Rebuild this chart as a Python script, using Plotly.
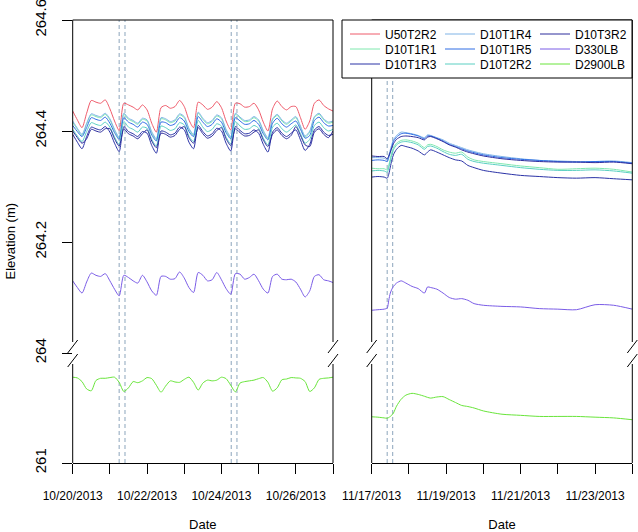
import pandas as pd
import plotly.graph_objects as go

W, H = 638, 532

# ---------------- data ----------------
SERIES = ["U50T2R2", "D10T1R1", "D10T1R3", "D10T1R4", "D10T1R5",
          "D10T2R2", "D10T3R2", "D330LB", "D2900LB"]
COLORS = {
    "U50T2R2": "#EE5A6A", "D10T1R1": "#7FE8AE", "D10T1R3": "#2A32A6",
    "D10T1R4": "#7FB3E6", "D10T1R5": "#2E6CE4", "D10T2R2": "#5ACFC2",
    "D10T3R2": "#2C2C9C", "D330LB": "#7A5CE6", "D2900LB": "#68E43A",
}
# legend rows (the reference legend is a 3 x 3 grid filled column by column)
LEGEND_ROW = {
    "U50T2R2": "legend", "D10T1R4": "legend", "D10T3R2": "legend",
    "D10T1R1": "legend2", "D10T1R5": "legend2", "D330LB": "legend2",
    "D10T1R3": "legend3", "D10T2R2": "legend3", "D2900LB": "legend3",
}

LEFT_START = "2013-10-20"
LEFT_HOURS = list(range(0, 169, 3))
LEFT_U50T2R2 = [
    264.436, 264.420, 264.406, 264.432, 264.455, 264.452, 264.450, 264.456,
    264.440, 264.418, 264.401, 264.450, 264.447, 264.443, 264.438, 264.447,
    264.438, 264.414, 264.398, 264.442, 264.446, 264.441, 264.444, 264.455,
    264.444, 264.420, 264.406, 264.452, 264.447, 264.439, 264.443, 264.453,
    264.442, 264.418, 264.402, 264.450, 264.449, 264.443, 264.444, 264.450,
    264.438, 264.416, 264.400, 264.440, 264.454, 264.444, 264.438, 264.444,
    264.444, 264.424, 264.403, 264.418, 264.450, 264.456, 264.446, 264.440,
    264.436]
LEFT_D10T1R1 = [
    264.416, 264.403, 264.392, 264.412, 264.429, 264.426, 264.424, 264.430,
    264.420, 264.401, 264.387, 264.430, 264.421, 264.417, 264.412, 264.421,
    264.418, 264.397, 264.384, 264.422, 264.420, 264.415, 264.418, 264.429,
    264.424, 264.403, 264.392, 264.432, 264.421, 264.413, 264.417, 264.427,
    264.422, 264.401, 264.388, 264.430, 264.423, 264.417, 264.418, 264.424,
    264.418, 264.399, 264.386, 264.420, 264.428, 264.418, 264.412, 264.418,
    264.424, 264.407, 264.389, 264.398, 264.424, 264.430, 264.420, 264.414,
    264.416]
LEFT_D10T1R4 = [
    264.418, 264.405, 264.394, 264.414, 264.431, 264.428, 264.426, 264.432,
    264.422, 264.403, 264.389, 264.432, 264.423, 264.419, 264.414, 264.423,
    264.420, 264.399, 264.386, 264.424, 264.422, 264.417, 264.420, 264.431,
    264.426, 264.405, 264.394, 264.434, 264.423, 264.415, 264.419, 264.429,
    264.424, 264.403, 264.390, 264.432, 264.425, 264.419, 264.420, 264.426,
    264.420, 264.401, 264.388, 264.422, 264.430, 264.420, 264.414, 264.420,
    264.426, 264.409, 264.391, 264.400, 264.426, 264.432, 264.422, 264.416,
    264.418]
LEFT_D10T1R5 = [
    264.410, 264.399, 264.390, 264.406, 264.424, 264.421, 264.419, 264.425,
    264.414, 264.397, 264.385, 264.424, 264.416, 264.412, 264.407, 264.416,
    264.412, 264.393, 264.382, 264.416, 264.415, 264.410, 264.413, 264.424,
    264.418, 264.399, 264.390, 264.426, 264.416, 264.408, 264.412, 264.422,
    264.416, 264.397, 264.386, 264.424, 264.418, 264.412, 264.413, 264.419,
    264.412, 264.395, 264.384, 264.414, 264.423, 264.413, 264.407, 264.413,
    264.418, 264.403, 264.387, 264.392, 264.419, 264.425, 264.415, 264.409,
    264.410]
LEFT_D10T2R2 = [
    264.403, 264.391, 264.381, 264.399, 264.415, 264.412, 264.410, 264.416,
    264.407, 264.389, 264.376, 264.417, 264.407, 264.403, 264.398, 264.407,
    264.405, 264.385, 264.373, 264.409, 264.406, 264.401, 264.404, 264.415,
    264.411, 264.391, 264.381, 264.419, 264.407, 264.399, 264.403, 264.413,
    264.409, 264.389, 264.377, 264.417, 264.409, 264.403, 264.404, 264.410,
    264.405, 264.387, 264.375, 264.407, 264.414, 264.404, 264.398, 264.404,
    264.411, 264.395, 264.378, 264.385, 264.410, 264.416, 264.406, 264.400,
    264.403]
LEFT_D10T1R3 = [
    264.394, 264.380, 264.368, 264.390, 264.407, 264.404, 264.402, 264.408,
    264.398, 264.378, 264.363, 264.408, 264.399, 264.395, 264.390, 264.399,
    264.396, 264.374, 264.360, 264.400, 264.398, 264.393, 264.396, 264.407,
    264.402, 264.380, 264.368, 264.410, 264.399, 264.391, 264.395, 264.405,
    264.400, 264.378, 264.364, 264.408, 264.401, 264.395, 264.396, 264.402,
    264.396, 264.376, 264.362, 264.398, 264.406, 264.396, 264.390, 264.396,
    264.402, 264.384, 264.365, 264.376, 264.402, 264.408, 264.398, 264.392,
    264.394]
LEFT_D10T3R2 = [
    264.400, 264.388, 264.378, 264.386, 264.403, 264.400, 264.398, 264.404,
    264.404, 264.386, 264.373, 264.404, 264.395, 264.391, 264.386, 264.395,
    264.402, 264.382, 264.370, 264.396, 264.394, 264.389, 264.392, 264.403,
    264.408, 264.388, 264.378, 264.406, 264.395, 264.387, 264.391, 264.401,
    264.406, 264.386, 264.374, 264.404, 264.397, 264.391, 264.392, 264.398,
    264.402, 264.384, 264.372, 264.394, 264.402, 264.392, 264.386, 264.392,
    264.408, 264.392, 264.375, 264.372, 264.398, 264.404, 264.394, 264.388,
    264.400]
LEFT_D330LB = [
    264.130, 264.118, 264.108, 264.128, 264.144, 264.140, 264.138, 264.143,
    264.130, 264.115, 264.103, 264.140, 264.136, 264.130, 264.126, 264.140,
    264.128, 264.112, 264.104, 264.138, 264.138, 264.133, 264.134, 264.146,
    264.135, 264.118, 264.109, 264.145, 264.140, 264.130, 264.132, 264.145,
    264.132, 264.116, 264.106, 264.143, 264.142, 264.133, 264.136, 264.142,
    264.130, 264.115, 264.108, 264.138, 264.142, 264.133, 264.132, 264.133,
    264.128, 264.115, 264.101, 264.112, 264.138, 264.141, 264.132, 264.130,
    264.127]
LEFT_D2900LB = [
    263.34, 263.32, 263.22, 263.02, 262.97, 263.25, 263.31, 263.31,
    263.33, 263.34, 263.20, 262.95, 263.05, 263.22, 263.19, 263.24,
    263.33, 263.30, 263.12, 262.93, 263.10, 263.24, 263.21, 263.20,
    263.28, 263.34, 263.20, 262.99, 263.18, 263.26, 263.24, 263.26,
    263.34, 263.30, 263.12, 262.94, 263.18, 263.22, 263.24, 263.26,
    263.30, 263.33, 263.20, 262.96, 263.05, 263.27, 263.29, 263.33,
    263.32, 263.31, 263.22, 262.95, 263.05, 263.28, 263.31, 263.32,
    263.34]

RIGHT_START = "2013-11-17"
RIGHT_HOURS = [0, 4, 8, 10, 11, 12, 13, 14, 16, 19, 22, 26, 30, 34, 36, 38,
               42, 46, 50, 54, 58, 62, 66, 72, 84, 96, 108, 120, 132, 144, 156, 168]
RIGHT_D10T1R4 = [
    264.352, 264.352, 264.351, 264.348, 264.356, 264.366, 264.376, 264.384,
    264.392, 264.398, 264.397, 264.395, 264.392, 264.388, 264.393, 264.392,
    264.388, 264.384, 264.378, 264.374, 264.370, 264.366, 264.363, 264.359,
    264.354, 264.350, 264.347, 264.346, 264.345, 264.345, 264.346, 264.343]
RIGHT_D10T1R5 = [
    264.347, 264.348, 264.347, 264.345, 264.352, 264.362, 264.372, 264.381,
    264.389, 264.395, 264.396, 264.394, 264.391, 264.386, 264.391, 264.391,
    264.387, 264.382, 264.376, 264.372, 264.368, 264.364, 264.361, 264.357,
    264.352, 264.349, 264.347, 264.345, 264.344, 264.345, 264.345, 264.342]
RIGHT_D10T3R2 = [
    264.355, 264.354, 264.354, 264.350, 264.355, 264.362, 264.370, 264.377,
    264.385, 264.390, 264.391, 264.390, 264.388, 264.384, 264.389, 264.390,
    264.386, 264.381, 264.375, 264.371, 264.366, 264.362, 264.359, 264.355,
    264.350, 264.347, 264.345, 264.344, 264.344, 264.343, 264.344, 264.341]
RIGHT_D10T1R1 = [
    264.333, 264.332, 264.332, 264.330, 264.338, 264.350, 264.362, 264.370,
    264.378, 264.383, 264.384, 264.382, 264.378, 264.370, 264.375, 264.376,
    264.372, 264.366, 264.362, 264.360, 264.362, 264.353, 264.348, 264.345,
    264.341, 264.337, 264.334, 264.331, 264.332, 264.333, 264.331, 264.326]
RIGHT_D10T2R2 = [
    264.328, 264.329, 264.328, 264.326, 264.334, 264.346, 264.358, 264.366,
    264.375, 264.380, 264.381, 264.379, 264.375, 264.367, 264.372, 264.373,
    264.369, 264.363, 264.358, 264.356, 264.358, 264.349, 264.345, 264.342,
    264.338, 264.334, 264.331, 264.329, 264.329, 264.330, 264.328, 264.324]
RIGHT_D10T1R3 = [
    264.317, 264.318, 264.317, 264.315, 264.322, 264.335, 264.348, 264.357,
    264.367, 264.374, 264.372, 264.369, 264.364, 264.357, 264.362, 264.366,
    264.362, 264.357, 264.352, 264.348, 264.346, 264.338, 264.334, 264.329,
    264.324, 264.320, 264.318, 264.316, 264.315, 264.316, 264.314, 264.312]
RIGHT_D330LB = [
    264.077, 264.078, 264.079, 264.081, 264.095, 264.108, 264.115, 264.120,
    264.126, 264.130, 264.126, 264.120, 264.116, 264.108, 264.119, 264.118,
    264.115, 264.108, 264.100, 264.097, 264.098, 264.095, 264.089, 264.086,
    264.084, 264.083, 264.080, 264.079, 264.078, 264.087, 264.086, 264.079]
RIGHT_D2900LB = [
    262.26, 262.25, 262.23, 262.22, 262.24, 262.27, 262.31, 262.36,
    262.55, 262.74, 262.85, 262.90, 262.87, 262.82, 262.79, 262.77,
    262.80, 262.81, 262.73, 262.65, 262.57, 262.54, 262.50, 262.42,
    262.33, 262.30, 262.27, 262.27, 262.27, 262.25, 262.23, 262.18]

LEFT = {"U50T2R2": LEFT_U50T2R2, "D10T1R1": LEFT_D10T1R1, "D10T1R3": LEFT_D10T1R3,
        "D10T1R4": LEFT_D10T1R4, "D10T1R5": LEFT_D10T1R5, "D10T2R2": LEFT_D10T2R2,
        "D10T3R2": LEFT_D10T3R2, "D330LB": LEFT_D330LB, "D2900LB": LEFT_D2900LB}
RIGHT = {"D10T1R1": RIGHT_D10T1R1, "D10T1R3": RIGHT_D10T1R3,
         "D10T1R4": RIGHT_D10T1R4, "D10T1R5": RIGHT_D10T1R5, "D10T2R2": RIGHT_D10T2R2,
         "D10T3R2": RIGHT_D10T3R2, "D330LB": RIGHT_D330LB, "D2900LB": RIGHT_D2900LB}

EVENT_TIMES = ["2013-10-21 06:00", "2013-10-21 09:45", "2013-10-24 06:20",
               "2013-10-24 10:00", "2013-11-17 10:00", "2013-11-17 13:30"]

LEFT_RANGE = ["2013-10-20", "2013-10-27"]
RIGHT_RANGE = ["2013-11-17", "2013-11-24"]
UPPER_RANGE = [264.0, 264.6]
LOWER_RANGE = [261.0, 264.0]
UPPER_TICKS = [264.0, 264.2, 264.4, 264.6]
UPPER_TICK_LABELS = ["264", "264.2", "264.4", "264.6"]
LOWER_TICKS = [261.0]
LOWER_TICK_LABELS = ["261"]

# ---------------- helpers ----------------
def X(px):
    return px / W


def Y(py):
    return 1 - py / H


def times(start, hours):
    return pd.Timestamp(start) + pd.to_timedelta(hours, unit="h")


def day_ticks(rng):
    days = pd.date_range(rng[0], rng[1], freq="D")
    text = [d.strftime("%m/%d/%Y") if i % 2 == 0 else "" for i, d in enumerate(days)]
    return list(days), text


FONT = "Liberation Sans, Arial, Helvetica, sans-serif"
XL = [72.7, 333.0]
XR = [371.7, 632.3]
Y_TOP, Y_BREAK, Y_BOT = 20.0, 353.0, 463.0

fig = go.Figure()

left_t = times(LEFT_START, LEFT_HOURS)
right_t = times(RIGHT_START, RIGHT_HOURS)

for name in SERIES:
    lower = name == "D2900LB"
    fig.add_trace(go.Scatter(
        x=left_t, y=LEFT[name], name=name, mode="lines",
        line=dict(color=COLORS[name], width=1, shape="spline", smoothing=0.7),
        xaxis="x" if lower else "x2", yaxis="y" if lower else "y2",
        legend=LEGEND_ROW[name], showlegend=True))
    if name in RIGHT:
        fig.add_trace(go.Scatter(
            x=right_t, y=RIGHT[name], name=name, mode="lines",
            line=dict(color=COLORS[name], width=1, shape="spline", smoothing=0.7),
            xaxis="x3" if lower else "x4", yaxis="y3" if lower else "y4",
            showlegend=False))

ltv, ltt = day_ticks(LEFT_RANGE)
rtv, rtt = day_ticks(RIGHT_RANGE)
dom_xl = [X(XL[0]), X(XL[1])]
dom_xr = [X(XR[0]), X(XR[1])]
dom_low = [Y(Y_BOT), Y(Y_BREAK)]
dom_up = [Y(Y_BREAK), Y(Y_TOP)]

tickfont = dict(family=FONT, size=12, color="black")
yfont = dict(family=FONT, size=15, color="black")
common_x = dict(showgrid=False, zeroline=False, type="date")
common_y = dict(showgrid=False, zeroline=False)
date_title = dict(text="Date", standoff=23, font=dict(family=FONT, size=13, color="black"))

fig.update_layout(
    width=W, height=H,
    margin=dict(l=0, r=0, t=0, b=0),
    paper_bgcolor="white", plot_bgcolor="white",
    font=dict(family=FONT, size=12, color="black"),
    xaxis=dict(common_x, domain=dom_xl, anchor="y", range=LEFT_RANGE,
               tickvals=ltv, ticktext=ltt, ticks="outside", ticklen=10,
               tickcolor="black", showline=True, linecolor="black", linewidth=1,
               tickfont=tickfont, ticklabelstandoff=12, automargin=False,
               title=date_title),
    yaxis=dict(common_y, domain=dom_low, anchor="x", range=LOWER_RANGE,
               tickvals=LOWER_TICKS, ticktext=LOWER_TICK_LABELS, ticks="outside",
               ticklen=10, tickcolor="black", tickangle=-90, tickfont=yfont,
               ticklabelstandoff=10, ticklabeloverflow="allow",
               showline=False, automargin=False),
    xaxis2=dict(common_x, domain=dom_xl, anchor="y2", range=LEFT_RANGE,
                showticklabels=False, ticks="", showline=False, automargin=False),
    yaxis2=dict(common_y, domain=dom_up, anchor="x2", range=UPPER_RANGE,
                tickvals=UPPER_TICKS, ticktext=UPPER_TICK_LABELS, ticks="outside",
                ticklen=10, tickcolor="black", tickangle=-90, tickfont=yfont,
                ticklabelstandoff=10, ticklabeloverflow="allow",
                showline=False, automargin=False),
    xaxis3=dict(common_x, domain=dom_xr, anchor="y3", range=RIGHT_RANGE,
                tickvals=rtv, ticktext=rtt, ticks="outside", ticklen=10,
                tickcolor="black", showline=True, linecolor="black", linewidth=1,
                tickfont=tickfont, ticklabelstandoff=12, automargin=False,
                title=date_title),
    yaxis3=dict(common_y, domain=dom_low, anchor="x3", range=LOWER_RANGE,
                showticklabels=False, ticks="", showline=False, automargin=False),
    xaxis4=dict(common_x, domain=dom_xr, anchor="y4", range=RIGHT_RANGE,
                showticklabels=False, ticks="", showline=False, automargin=False),
    yaxis4=dict(common_y, domain=dom_up, anchor="x4", range=UPPER_RANGE,
                showticklabels=False, ticks="", showline=False, automargin=False),
    showlegend=True,
)

legend_common = dict(bgcolor="rgba(0,0,0,0)", borderwidth=0, orientation="h",
                     entrywidth=50, entrywidthmode="pixels",
                     xanchor="left", yanchor="middle", x=X(345),
                     font=dict(family=FONT, size=12, color="black"))
fig.update_layout(
    legend=dict(legend_common, y=Y(34)),
    legend2=dict(legend_common, y=Y(49)),
    legend3=dict(legend_common, y=Y(64)),
)

shapes = []
# event lines
for t in EVENT_TIMES:
    ax = "x" if pd.Timestamp(t).month == 10 else "x3"
    shapes.append(dict(type="line", xref=ax, yref="paper", x0=t, x1=t,
                       y0=Y(Y_BOT), y1=Y(Y_TOP), layer="below",
                       line=dict(color="#9fb4c7", width=1.2, dash="4px,3px")))

# panel frames with axis-break marks
GAP_TOP, GAP_BOT = 342.0, 364.0
for x0, x1 in (XL, XR):
    shapes.append(dict(type="line", xref="paper", yref="paper",
                       x0=X(x0), x1=X(x1), y0=Y(Y_TOP), y1=Y(Y_TOP),
                       line=dict(color="black", width=1)))
    for xe in (x0, x1):
        shapes.append(dict(type="line", xref="paper", yref="paper",
                           x0=X(xe), x1=X(xe), y0=Y(Y_TOP), y1=Y(GAP_TOP),
                           line=dict(color="black", width=1)))
        shapes.append(dict(type="line", xref="paper", yref="paper",
                           x0=X(xe), x1=X(xe), y0=Y(GAP_BOT), y1=Y(Y_BOT),
                           line=dict(color="black", width=1)))
        for yc in (346.5, 360.5):
            shapes.append(dict(type="line", xref="paper", yref="paper",
                               x0=X(xe - 5), x1=X(xe + 5), y0=Y(yc + 6.5), y1=Y(yc - 6.5),
                               line=dict(color="black", width=1)))

# legend box (drawn last so it masks what lies beneath)
shapes.append(dict(type="rect", xref="paper", yref="paper", layer="above",
                   x0=X(342), x1=X(632), y0=Y(78), y1=Y(20),
                   fillcolor="white", line=dict(color="black", width=1)))
fig.update_layout(shapes=shapes)

fig.add_annotation(text="Elevation (m)", xref="paper", yref="paper",
                   x=X(10), y=Y(241.5), textangle=-90, showarrow=False,
                   font=dict(family=FONT, size=13, color="black"),
                   xanchor="center", yanchor="middle")

fig.write_html("out.html", config={"displayModeBar": False},
               post_script="document.body.style.margin='0';")
